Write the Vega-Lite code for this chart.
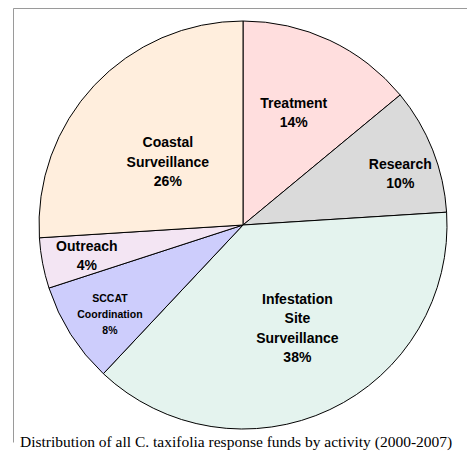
{
  "$schema": "https://vega.github.io/schema/vega-lite/v6.json",
  "width": 460,
  "height": 434,
  "padding": {"left": 13, "top": 8, "right": 0, "bottom": 0},
  "background": "white",
  "view": {"stroke": "#9a9a9a", "strokeWidth": 1, "fill": "white", "strokeDash": [894, 460, 434]},
  "title": {
    "text": "Distribution of all C. taxifolia response funds by activity (2000-2007)",
    "orient": "bottom",
    "anchor": "start",
    "dx": 7,
    "offset": 5,
    "baseline": "alphabetic",
    "font": "Liberation Serif",
    "fontSize": 15.5,
    "fontWeight": "normal",
    "color": "black"
  },
  "data": {
    "values": [
      {"activity": "Treatment", "label": "Treatment\n14%", "pct": 14, "rank": 1},
      {"activity": "Research", "label": "Research\n10%", "pct": 10, "rank": 2},
      {"activity": "Infestation Site Surveillance", "label": "Infestation\nSite\nSurveillance\n38%", "pct": 38, "rank": 3},
      {"activity": "SCCAT Coordination", "label": "SCCAT\nCoordination\n8%", "pct": 8, "rank": 4},
      {"activity": "Outreach", "label": "Outreach\n4%", "pct": 4, "rank": 5},
      {"activity": "Coastal Surveillance", "label": "Coastal\nSurveillance\n26%", "pct": 26, "rank": 6}
    ]
  },
  "encoding": {
    "theta": {"field": "pct", "type": "quantitative", "stack": true},
    "order": {"field": "rank", "type": "quantitative"}
  },
  "layer": [
    {
      "mark": {"type": "arc", "outerRadius": 204, "stroke": "black", "strokeWidth": 1},
      "encoding": {
        "color": {
          "field": "activity",
          "type": "nominal",
          "legend": null,
          "scale": {
            "domain": ["Treatment", "Research", "Infestation Site Surveillance", "SCCAT Coordination", "Outreach", "Coastal Surveillance"],
            "range": ["#ffdede", "#dadada", "#e4f3ee", "#cdcdfc", "#f3e5f3", "#ffeedd"]
          }
        }
      }
    },
    {
      "mark": {"type": "text", "radius": 124, "font": "Liberation Sans", "fontWeight": "bold", "fontSize": 14, "lineHeight": 19.3, "lineBreak": "\n", "align": "center", "baseline": "middle", "dx": -2, "dy": -9},
      "encoding": {"text": {"condition": {"test": "datum.activity === 'Treatment'", "field": "label"}, "value": ""}}
    },
    {
      "mark": {"type": "text", "radius": 166, "font": "Liberation Sans", "fontWeight": "bold", "fontSize": 14, "lineHeight": 19.3, "lineBreak": "\n", "align": "center", "baseline": "middle", "dx": 3, "dy": 1},
      "encoding": {"text": {"condition": {"test": "datum.activity === 'Research'", "field": "label"}, "value": ""}}
    },
    {
      "mark": {"type": "text", "radius": 116, "font": "Liberation Sans", "fontWeight": "bold", "fontSize": 14, "lineHeight": 19.3, "lineBreak": "\n", "align": "center", "baseline": "middle", "dx": 5, "dy": -30},
      "encoding": {"text": {"condition": {"test": "datum.activity === 'Infestation Site Surveillance'", "field": "label"}, "value": ""}}
    },
    {
      "mark": {"type": "text", "radius": 160, "font": "Liberation Sans", "fontWeight": "bold", "fontSize": 10.5, "lineHeight": 16, "lineBreak": "\n", "align": "center", "baseline": "middle", "dx": 2, "dy": -12},
      "encoding": {"text": {"condition": {"test": "datum.activity === 'SCCAT Coordination'", "field": "label"}, "value": ""}}
    },
    {
      "mark": {"type": "text", "radius": 161, "font": "Liberation Sans", "fontWeight": "bold", "fontSize": 14, "lineHeight": 19.3, "lineBreak": "\n", "align": "center", "baseline": "middle", "dx": 2, "dy": -8.5},
      "encoding": {"text": {"condition": {"test": "datum.activity === 'Outreach'", "field": "label"}, "value": ""}}
    },
    {
      "mark": {"type": "text", "radius": 99, "font": "Liberation Sans", "fontWeight": "bold", "fontSize": 14, "lineHeight": 19.3, "lineBreak": "\n", "align": "center", "baseline": "middle", "dx": -3, "dy": -14},
      "encoding": {"text": {"condition": {"test": "datum.activity === 'Coastal Surveillance'", "field": "label"}, "value": ""}}
    }
  ]
}
